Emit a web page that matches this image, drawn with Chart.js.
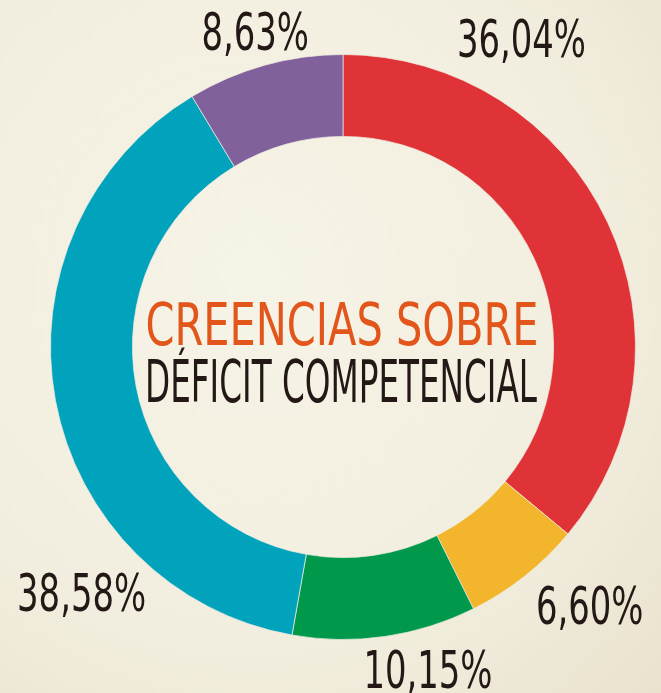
<!DOCTYPE html>
<html>
<head>
<meta charset="utf-8">
<script src="https://cdn.jsdelivr.net/npm/chart.js@4/dist/chart.umd.min.js"></script>
<style>
  html, body { margin: 0; padding: 0; }
  body {
    width: 661px; height: 693px; overflow: hidden;
    background: radial-gradient(ellipse 95% 95% at 38% 40%, #f6f4e7 0%, #f2eedf 55%, #e6dfc9 100%);
  }
  #wrap { width: 661px; height: 693px; position: relative; }
</style>
</head>
<body>
<div id="wrap"><canvas id="donut" width="661" height="693"></canvas></div>
<script>
// datos (porcentajes, en sentido horario desde arriba)
var categories = ['Rojo', 'Amarillo', 'Verde', 'Azul', 'Morado'];
var values = [36.04, 6.60, 10.15, 38.58, 8.63];
var percentLabels = ['36,04%', '6,60%', '10,15%', '38,58%', '8,63%'];
var sliceColors = ['#e03338', '#f3b52b', '#00984a', '#00a2bc', '#80619b'];
var titleLines = ['CREENCIAS SOBRE', 'DÉFICIT COMPETENCIAL'];

// colocacion de etiquetas: angulo (grados desde arriba) y distancia en radios
var labelAngle = [30.0, 136.2, 165.2, 226.9, 344.5];
var labelDist = [1.22, 1.219, 1.137, 1.224, 1.123];

var FONT = '"Liberation Sans Narrow", "DejaVu Sans Condensed", "Roboto", sans-serif';

var ctx = document.getElementById('donut').getContext('2d');

function drawSquished(c, text, x, y, targetW, refW) {
  // dibuja texto comprimido horizontalmente (fuente tipo Oswald)
  var m = c.measureText(text);
  var sx = targetW / refW;
  var asc = m.actualBoundingBoxAscent;
  c.save();
  c.translate(x, y + asc / 2);
  c.scale(sx, 1);
  c.fillText(text, 0, 0);
  c.restore();
}

var textPlugin = {
  id: 'textPlugin',
  afterDatasetsDraw: function(chart) {
    var c = chart.ctx;
    var meta = chart.getDatasetMeta(0);
    var arc0 = meta.data[0];
    var cx = arc0.x, cy = arc0.y, R = arc0.outerRadius;

    c.save();
    c.textAlign = 'center';
    c.textBaseline = 'alphabetic';

    // etiquetas de porcentaje
    c.font = '52px ' + FONT;
    c.fillStyle = '#231815';
    var refW = c.measureText(percentLabels[0]).width;
    for (var i = 0; i < percentLabels.length; i++) {
      var a = labelAngle[i] * Math.PI / 180;
      var x = cx + R * labelDist[i] * Math.sin(a);
      var y = cy - R * labelDist[i] * Math.cos(a);
      drawSquished(c, percentLabels[i], x, y, 129, refW);
    }

    // titulo central
    c.font = '59px ' + FONT;
    c.fillStyle = '#e2561b';
    var w0 = c.measureText(titleLines[0]).width;
    var m0 = c.measureText(titleLines[0]);
    c.save();
    c.translate(cx - 1, cy - 2);
    c.scale(393 / w0, 1);
    c.fillText(titleLines[0], 0, 0);
    c.restore();

    c.fillStyle = '#231815';
    var w1 = c.measureText(titleLines[1]).width;
    c.save();
    c.translate(cx - 2, cy + 55);
    c.scale(392 / w1, 1);
    c.fillText(titleLines[1], 0, 0);
    c.restore();

    c.restore();
  }
};

var donutChart = new Chart(ctx, {
  type: 'doughnut',
  data: {
    labels: categories,
    datasets: [{
      data: values,
      backgroundColor: sliceColors,
      borderColor: 'rgba(240,236,222,0.7)',
      borderWidth: 1,
      hoverOffset: 0
    }]
  },
  options: {
    responsive: false,
    devicePixelRatio: 1,
    animation: false,
    cutout: '72%',
    layout: { padding: { left: 50, right: 25, top: 54, bottom: 53 } },
    plugins: {
      legend: { display: false },
      tooltip: { enabled: false }
    }
  },
  plugins: [textPlugin]
});
</script>
</body>
</html>
